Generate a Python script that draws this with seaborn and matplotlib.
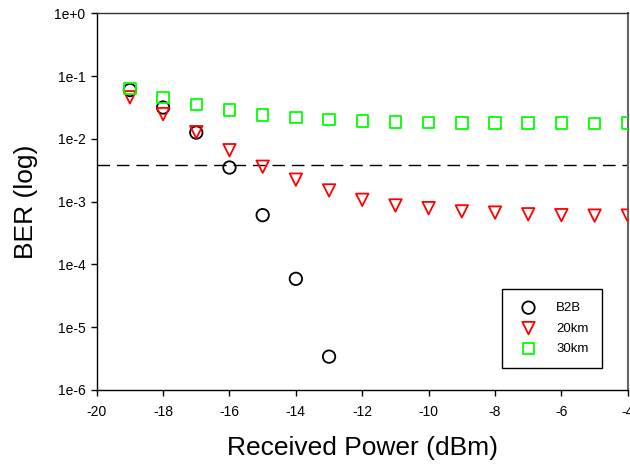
import numpy as np
import pandas as pd
import matplotlib
matplotlib.use("Agg")
import matplotlib.pyplot as plt
import seaborn as sns

# Data
power_b2b = [-19, -18, -17, -16, -15, -14, -13]
ber_b2b = [0.060, 0.0316, 0.0126, 3.5e-3, 6.1e-4, 5.9e-5, 3.4e-6]

power_20km = [-19, -18, -17, -16, -15, -14, -13, -12, -11, -10, -9, -8, -7, -6, -5, -4]
ber_20km = [0.046, 0.0248, 0.0128, 6.6e-3, 3.6e-3, 2.24e-3, 1.51e-3, 1.07e-3,
            8.7e-4, 7.9e-4, 7.0e-4, 6.7e-4, 6.3e-4, 6.1e-4, 6.0e-4, 6.0e-4]

power_30km = [-19, -18, -17, -16, -15, -14, -13, -12, -11, -10, -9, -8, -7, -6, -5, -4]
ber_30km = [0.063, 0.046, 0.035, 0.029, 0.024, 0.022, 0.0204, 0.0194,
            0.0187, 0.0183, 0.018, 0.0178, 0.0178, 0.0178, 0.0177, 0.0178]

fec_limit = 3.8e-3

x_ticks = [-20, -18, -16, -14, -12, -10, -8, -6, -4]
y_ticks = [1e-6, 1e-5, 1e-4, 1e-3, 1e-2, 1e-1, 1e0]
y_tick_labels = ["1e-6", "1e-5", "1e-4", "1e-3", "1e-2", "1e-1", "1e+0"]

sns.set_style("ticks")
plt.rcParams['font.family'] = ['Liberation Sans', 'DejaVu Sans']
plt.rcParams['text.color'] = 'black'
plt.rcParams['axes.labelcolor'] = 'black'

fig = plt.figure(figsize=(6.3, 4.65), dpi=100)
ax = fig.add_axes([0.1535, 0.1613, 0.843, 0.810])

series = [
    ("B2B", power_b2b, ber_b2b, "o", "black", 80),
    ("20km", power_20km, ber_20km, "v", "#ff0000", 80),
    ("30km", power_30km, ber_30km, "s", "#00ff00", 68),
]
for name, xs, ys, mk, col, s in series:
    df = pd.DataFrame({"x": xs, "y": ys})
    sns.scatterplot(data=df, x="x", y="y", marker=mk, s=s, facecolors="none",
                    edgecolors=col, color=col, linewidth=1.3, ax=ax, label=name,
                    zorder=3)

ax.axhline(fec_limit, color="black", linewidth=1.0, dashes=(9, 5), zorder=2)

ax.set_yscale("log")
ax.set_xlim(-20, -4)
ax.set_ylim(1e-6, 1e0)
ax.set_xticks(x_ticks)
ax.set_xticklabels([str(t) for t in x_ticks])
ax.set_yticks(y_ticks)
ax.set_yticklabels(y_tick_labels)
ax.yaxis.set_minor_locator(matplotlib.ticker.NullLocator())
ax.xaxis.set_minor_locator(matplotlib.ticker.NullLocator())
ax.tick_params(axis="both", which="major", direction="out", length=4, width=1,
               labelsize=10, colors="black")
ax.tick_params(axis="x", pad=7)
ax.tick_params(axis="y", pad=4)

ax.set_xlabel("Received Power (dBm)", fontsize=19, labelpad=12, color="black")
ax.set_ylabel("BER (log)", fontsize=19, labelpad=12, color="black")

for side in ["left", "bottom", "top"]:
    ax.spines[side].set_visible(True)
    ax.spines[side].set_color("black")
    ax.spines[side].set_linewidth(1)
ax.spines["top"].set_color("#333333")
ax.spines["right"].set_visible(True)
ax.spines["right"].set_color("#666666")
ax.spines["right"].set_linewidth(1.5)

leg = ax.legend(loc="lower right", bbox_to_anchor=(0.951, 0.058), fontsize=9.5,
                frameon=True, fancybox=False, framealpha=1, edgecolor="black",
                borderpad=1.0, handletextpad=1.1, labelspacing=0.62,
                borderaxespad=0)
leg.get_frame().set_linewidth(1)
for t in leg.get_texts():
    t.set_color("black")

fig.savefig("out.png", dpi=100)
